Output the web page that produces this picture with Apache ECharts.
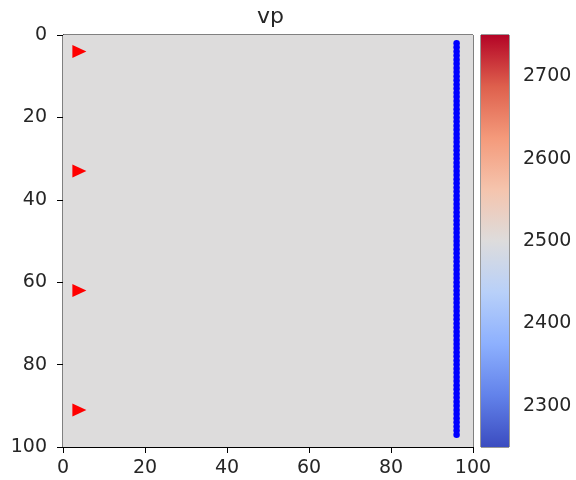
<!DOCTYPE html>
<html>
<head>
<meta charset="utf-8">
<script src="https://cdn.jsdelivr.net/npm/echarts@6/dist/echarts.min.js"></script>
<style>html,body{margin:0;padding:0;background:#fff}#c{width:576px;height:480px}</style>
</head>
<body>
<div id="c"></div>
<script>
// ---- data ----
var title = 'vp';
// model extent [x0, x1, z0, z1] and uniform velocity value
var modelExtent = [0, 100, 0, 100];
var modelValue = 2500;
// sources (red triangles)
var srcX = [4, 4, 4, 4];
var srcY = [4, 33, 62, 91];
// receivers (blue dots)
var recX = 96;
var recY = [2,3,4,5,6,7,8,9,10,11,12,13,14,15,16,17,18,19,20,21,22,23,24,25,26,27,28,29,30,31,32,33,34,35,36,37,38,39,40,41,42,43,44,45,46,47,48,49,50,51,52,53,54,55,56,57,58,59,60,61,62,63,64,65,66,67,68,69,70,71,72,73,74,75,76,77,78,79,80,81,82,83,84,85,86,87,88,89,90,91,92,93,94,95,96,97];
// axes
var xTicks = [0, 20, 40, 60, 80, 100];
var yTicks = [0, 20, 40, 60, 80, 100];
var cbMin = 2250, cbMax = 2750;
var cbTicks = [2300, 2400, 2500, 2600, 2700];
// coolwarm colormap
var coolwarm = ['#3b4cc0', '#6282ea', '#8db0fe', '#b8d0f9', '#dddcdc', '#f5c4ad', '#f49a7b', '#de604d', '#b40426'];

var chart = echarts.init(document.getElementById('c'), null, {renderer: 'canvas'});
var txt = '#262626';
var font = 'DejaVu Sans';
var fs = 19;

var srcData = srcX.map(function (x, i) { return [x, srcY[i]]; });
var recData = recY.map(function (y) { return [recX, y]; });

var option = {
  backgroundColor: '#ffffff',
  animation: false,
  title: {
    text: title, left: 252, top: 1,
    textStyle: {fontFamily: font, fontSize: 22, fontWeight: 'normal', color: txt}
  },
  grid: [
    {left: 63, top: 35, width: 410, height: 412, show: true, borderColor: '#000', borderWidth: 1, backgroundColor: 'transparent'},
    {left: 481, top: 35, width: 28, height: 412, show: true, borderColor: '#333', borderWidth: 1, backgroundColor: 'transparent'}
  ],
  visualMap: [{
    type: 'continuous', show: false, min: cbMin, max: cbMax, dimension: 4, seriesIndex: 0,
    inRange: {color: coolwarm}
  }],
  xAxis: [
    {type: 'value', gridIndex: 0, min: 0, max: 100, interval: 20, position: 'bottom',
     axisLine: {show: true, onZero: false, lineStyle: {color: '#000', width: 1}},
     axisTick: {show: true, inside: false, length: 6, lineStyle: {color: '#000'}},
     axisLabel: {fontFamily: font, fontSize: fs, color: txt, margin: 12, customValues: xTicks},
     splitLine: {show: false}},
    {type: 'value', gridIndex: 1, min: 0, max: 1, show: false}
  ],
  yAxis: [
    {type: 'value', gridIndex: 0, min: 0, max: 100, interval: 20, inverse: true, position: 'left',
     axisLine: {show: true, onZero: false, lineStyle: {color: '#000', width: 1}},
     axisTick: {show: true, inside: false, length: 6, lineStyle: {color: '#000'}},
     axisLabel: {fontFamily: font, fontSize: fs, color: txt, margin: 16, customValues: yTicks},
     splitLine: {show: false}},
    {type: 'value', gridIndex: 1, min: cbMin, max: cbMax, position: 'right',
     axisLine: {show: false},
     axisTick: {show: true, inside: false, length: 6, lineStyle: {color: '#000'}, customValues: cbTicks},
     axisLabel: {fontFamily: font, fontSize: fs, color: txt, margin: 14, customValues: cbTicks,
       formatter: function (v) { return String(v); }},
     splitLine: {show: false}}
  ],
  series: [
    {
      type: 'custom', xAxisIndex: 0, yAxisIndex: 0, z: 1,
      data: [[modelExtent[0], modelExtent[1], modelExtent[2], modelExtent[3], modelValue]],
      encode: {x: [0, 1], y: [2, 3]},
      renderItem: function (params, api) {
        var p0 = api.coord([api.value(0), api.value(2)]);
        var p1 = api.coord([api.value(1), api.value(3)]);
        return {type: 'rect', shape: {x: Math.min(p0[0], p1[0]), y: Math.min(p0[1], p1[1]),
          width: Math.abs(p1[0] - p0[0]), height: Math.abs(p1[1] - p0[1])},
          style: {fill: api.visual('color')}};
      }
    },
    {
      type: 'scatter', xAxisIndex: 0, yAxisIndex: 0, z: 3,
      data: recData, symbol: 'circle', symbolSize: 6.5,
      itemStyle: {color: '#0000ff', opacity: 1}
    },
    {
      type: 'scatter', xAxisIndex: 0, yAxisIndex: 0, z: 4,
      data: srcData, symbol: 'triangle', symbolSize: [13, 14], symbolRotate: -90,
      itemStyle: {color: '#ff0000', opacity: 1}
    },
    {
      type: 'custom', xAxisIndex: 1, yAxisIndex: 1, z: 1,
      data: [[0, 1, cbMin, cbMax]],
      encode: {x: [0, 1], y: [2, 3]},
      renderItem: function (params, api) {
        var p0 = api.coord([api.value(0), api.value(2)]);
        var p1 = api.coord([api.value(1), api.value(3)]);
        var stops = coolwarm.map(function (c, i) { return {offset: 1 - i / (coolwarm.length - 1), color: c}; }).reverse();
        return {type: 'rect', shape: {x: Math.min(p0[0], p1[0]), y: Math.min(p0[1], p1[1]),
          width: Math.abs(p1[0] - p0[0]), height: Math.abs(p1[1] - p0[1])},
          style: {fill: new echarts.graphic.LinearGradient(0, 0, 0, 1, stops)}};
      }
    }
  ]
};
chart.setOption(option);
</script>
</body>
</html>
